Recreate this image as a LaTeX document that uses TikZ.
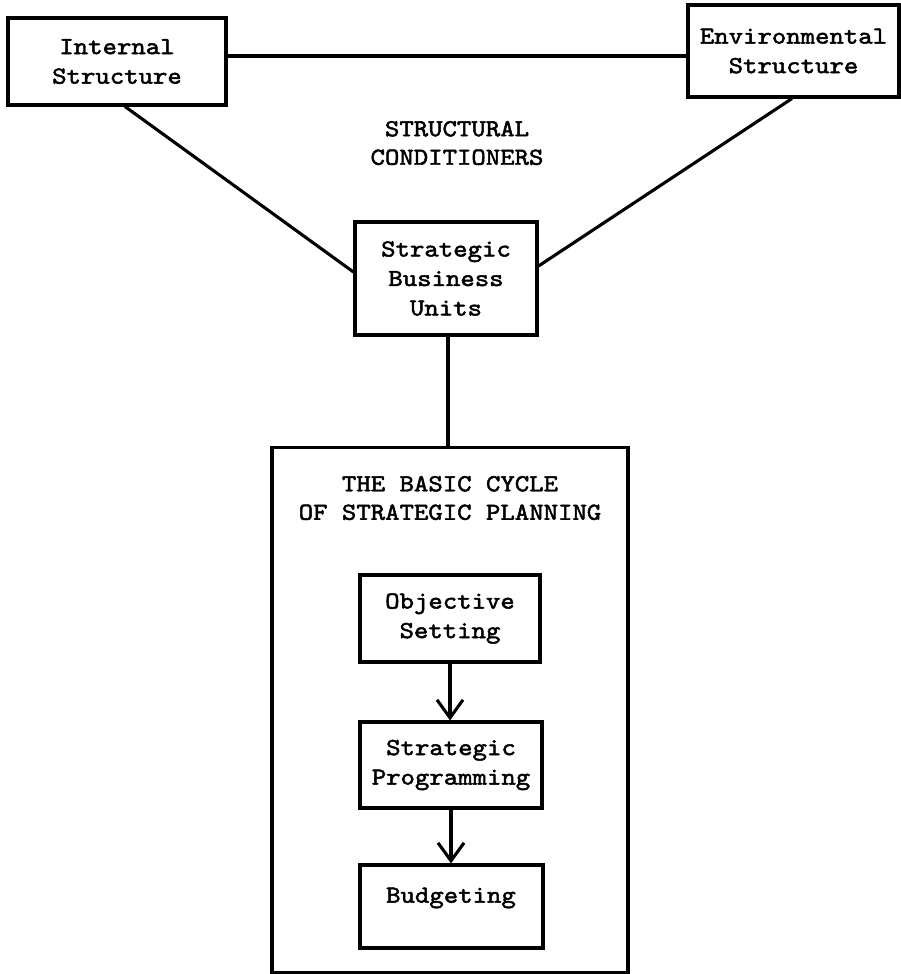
\documentclass[tikz,border=0pt]{standalone}
\usepackage{fontspec}
\newfontfamily\tw{lmmono10-regular}[Extension=.otf,FakeStretch=1.12,FakeBold=2]
\usetikzlibrary{arrows.meta}
\begin{document}
\begin{tikzpicture}[x=1pt,y=-1pt,
  box/.style={draw,line width=3.1pt,rectangle,inner sep=0pt,align=center,font=\tw\fontsize{24.5}{29.5}\selectfont},
  txt/.style={align=center,inner sep=0pt,font=\tw\fontsize{24.5}{28.5}\selectfont},
  conn/.style={line width=3.1pt},
  arr/.style={conn,-{Straight Barb[length=18pt,width=26pt]}}]
\useasboundingbox (0,0) rectangle (901,974);
\node[box,minimum width=218pt,minimum height=87pt] (int) at (117,61.5) {Internal\\Structure};
\node[box,minimum width=211pt,minimum height=92pt] (env) at (793.5,51) {Environmental\\Structure};
\node[txt] (sc) at (457,143) {STRUCTURAL\\CONDITIONERS};
\node[box,minimum width=182pt,minimum height=113pt] (sbu) at (446,278.5) {Strategic\\Business\\Units};
\node[box,minimum width=356pt,minimum height=525pt] (cyc) at (450,710) {};
\node[txt] (title) at (450,498) {THE BASIC CYCLE\\OF STRATEGIC PLANNING};
\node[box,minimum width=180pt,minimum height=87pt] (obj) at (450,618.5) {Objective\\Setting};
\node[box,minimum width=182pt,minimum height=86pt] (prog) at (451,765) {Strategic\\Programming};
\node[box,minimum width=183pt,minimum height=83pt] (bud) at (451.5,906.5) {};
\node[txt] (budt) at (451,898) {Budgeting};
\draw[conn] (int.east |- 0,56) -- (env.west |- 0,56);
\draw[conn] (int.south -| 125,0) -- (sbu.west |- 0,272);
\draw[conn] (env.south -| 792,0) -- (sbu.east |- 0,266);
\draw[conn] (sbu.south -| 448,0) -- (cyc.north -| 448,0);
\draw[arr] (obj.south) -- (obj.south |- prog.north);
\draw[arr] (prog.south) -- (prog.south |- bud.north);
\end{tikzpicture}
\end{document}
